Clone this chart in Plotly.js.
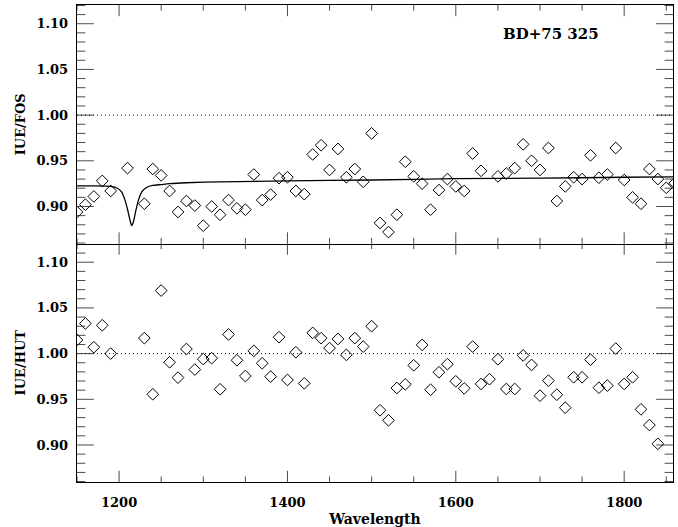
<!DOCTYPE html>
<html>
<head>
<meta charset="utf-8">
<script src="https://cdn.plot.ly/plotly-3.0.1.min.js"></script>
<style>html,body{margin:0;padding:0;background:#fff;}#chart{width:678px;height:527px;}</style>
</head>
<body>
<div id="chart"></div>
<script>
// IUE/FOS ratios (top panel)
const fosWave = [1150,1160,1170,1180,1190,1210,1230,1240,1250,1260,1270,1280,1290,1300,1310,1320,1330,1340,1350,1360,1370,1380,1390,1400,1410,1420,1430,1440,1450,1460,1470,1480,1490,1500,1510,1520,1530,1540,1550,1560,1570,1580,1590,1600,1610,1620,1630,1650,1660,1670,1680,1690,1700,1710,1720,1730,1740,1750,1760,1770,1780,1790,1800,1810,1820,1830,1840,1850,1860];
const fosRatio = [0.894,0.902,0.911,0.928,0.917,0.942,0.903,0.941,0.934,0.917,0.894,0.906,0.901,0.879,0.900,0.891,0.907,0.898,0.8965,0.935,0.907,0.913,0.931,0.932,0.917,0.9135,0.957,0.967,0.940,0.963,0.932,0.941,0.927,0.980,0.882,0.872,0.891,0.949,0.933,0.925,0.8965,0.918,0.930,0.922,0.917,0.958,0.939,0.933,0.936,0.942,0.968,0.950,0.940,0.964,0.906,0.922,0.932,0.930,0.956,0.9315,0.935,0.964,0.929,0.910,0.903,0.941,0.930,0.9205,0.9256];

// Model curve
const fitWave = [1150,1170,1190,1198,1203,1207,1210,1213,1215,1217,1220,1223,1227,1233,1240,1250,1260,1280,1320,1400,1500,1600,1700,1800,1860];
const fitRatio = [0.9225,0.9225,0.922,0.920,0.916,0.907,0.897,0.885,0.879,0.883,0.896,0.907,0.916,0.921,0.923,0.924,0.925,0.926,0.927,0.928,0.929,0.9305,0.931,0.932,0.9325];

// IUE/HUT ratios (bottom panel)
const hutWave = [1150,1160,1170,1180,1190,1230,1240,1250,1260,1270,1280,1290,1300,1310,1320,1330,1340,1350,1360,1370,1380,1390,1400,1410,1420,1430,1440,1450,1460,1470,1480,1490,1500,1510,1520,1530,1540,1550,1560,1570,1580,1590,1600,1610,1620,1630,1640,1650,1660,1670,1680,1690,1700,1710,1720,1730,1740,1750,1760,1770,1780,1790,1800,1810,1820,1830,1840];
const hutRatio = [1.015,1.033,1.007,1.031,1.000,1.017,0.9555,1.069,0.9905,0.9737,1.005,0.9825,0.994,0.995,0.961,1.021,0.9927,0.9755,1.003,0.9894,0.9748,1.018,0.9712,1.0015,0.9675,1.0227,1.0169,1.006,1.016,0.9986,1.0169,1.0077,1.030,0.938,0.927,0.9624,0.9664,0.9872,1.0095,0.9605,0.9796,0.9884,0.9697,0.962,1.0077,0.9668,0.972,0.9938,0.9613,0.9613,0.998,0.9876,0.954,0.9704,0.955,0.9408,0.9741,0.9741,0.9934,0.9627,0.965,1.0055,0.9668,0.9741,0.939,0.9218,0.9013];

// Tick positions
const yMajorTicks = [0.90, 0.95, 1.00, 1.05, 1.10];
const yMinorTicks = [0.86,0.87,0.88,0.89,0.91,0.92,0.93,0.94,0.96,0.97,0.98,0.99,1.01,1.02,1.03,1.04,1.06,1.07,1.08,1.09,1.11,1.12];
const xMajorTicks = [1200, 1400, 1600, 1800];
const xMinorTicks = [1150,1250,1300,1350,1450,1500,1550,1650,1700,1750,1850];
const starName = 'BD+75 325';

const xRange = [1150, 1858];
const yRange = [0.8595, 1.1205];

const font = {family: 'DejaVu Serif', size: 13, color: '#000', weight: 'bold'};
const marker = {symbol: 'diamond-open', size: 9, color: '#000', line: {width: 1, color: '#000'}};

const traces = [
  {x: fosWave, y: fosRatio, xaxis: 'x2', yaxis: 'y2', mode: 'markers', type: 'scatter', marker: marker},
  {x: fitWave, y: fitRatio, xaxis: 'x2', yaxis: 'y2', mode: 'lines', type: 'scatter', line: {color: '#000', width: 1.3, shape: 'spline', smoothing: 0.6}},
  {x: hutWave, y: hutRatio, xaxis: 'x', yaxis: 'y', mode: 'markers', type: 'scatter', marker: marker}
];

// Inward tick marks: line markers centred on each frame edge, half clipped by the plot area
[['x', 'y'], ['x2', 'y2']].forEach(function (p) {
  const yVals = yMajorTicks.concat(yMinorTicks);
  const ySizes = yMajorTicks.map(function () { return 24; }).concat(yMinorTicks.map(function () { return 12; }));
  const xVals = xMajorTicks.concat(xMinorTicks);
  const xSizes = xMajorTicks.map(function () { return 16; }).concat(xMinorTicks.map(function () { return 8; }));
  xRange.forEach(function (edge) {
    traces.push({x: yVals.map(function () { return edge; }), y: yVals, xaxis: p[0], yaxis: p[1], type: 'scatter', mode: 'markers',
      cliponaxis: true, hoverinfo: 'skip', marker: {symbol: 'line-ew', size: ySizes, color: '#000', line: {width: 1, color: '#000'}}});
  });
  yRange.forEach(function (edge) {
    traces.push({x: xVals, y: xVals.map(function () { return edge; }), xaxis: p[0], yaxis: p[1], type: 'scatter', mode: 'markers',
      cliponaxis: true, hoverinfo: 'skip', marker: {symbol: 'line-ns', size: xSizes, color: '#000', line: {width: 1, color: '#000'}}});
  });
});

function yAxis(domain, anchor, title) {
  return {
    domain: domain, range: yRange, anchor: anchor,
    tickmode: 'array', tickvals: yMajorTicks, tickformat: '.2f', ticks: '',
    mirror: true, showline: true, linecolor: '#000', linewidth: 1.3,
    showgrid: false, zeroline: false, tickfont: font, ticklabelstandoff: 5,
    title: {text: title, font: {family: 'DejaVu Serif', size: 13, color: '#000', weight: 'bold'}, standoff: 8}
  };
}

const layout = {
  width: 678, height: 527,
  margin: {l: 77, r: 5, t: 5, b: 45},
  paper_bgcolor: '#fff', plot_bgcolor: '#fff',
  showlegend: false,
  font: font,
  xaxis: {domain: [0, 1], range: xRange, anchor: 'y', tickmode: 'array', tickvals: xMajorTicks, ticks: '',
          showline: true, mirror: false, linecolor: '#000', linewidth: 1.3, showgrid: false, zeroline: false,
          tickfont: font, ticklabelstandoff: 8,
          title: {text: 'Wavelength', font: {family: 'DejaVu Serif', size: 14, color: '#000', weight: 'bold'}, standoff: 6}},
  xaxis2: {domain: [0, 1], range: xRange, anchor: 'y2', matches: 'x', showticklabels: false, ticks: '',
           showline: true, mirror: true, linecolor: '#000', linewidth: 1.5, showgrid: false, zeroline: false},
  yaxis: yAxis([0, 0.5], 'x', 'IUE/HUT'),
  yaxis2: yAxis([0.5, 1], 'x2', 'IUE/FOS'),
  shapes: [
    {type: 'line', xref: 'x2 domain', yref: 'y2', x0: 0, x1: 1, y0: 1.0, y1: 1.0, line: {color: '#000', width: 1, dash: '1px,3px'}},
    {type: 'line', xref: 'x domain', yref: 'y', x0: 0, x1: 1, y0: 1.0, y1: 1.0, line: {color: '#000', width: 1, dash: '1px,3px'}}
  ],
  annotations: [
    {text: starName, xref: 'x2 domain', yref: 'y2 domain', x: 0.795, y: 0.88, xanchor: 'center', yanchor: 'middle', showarrow: false,
     font: {family: 'DejaVu Serif', size: 15, color: '#000', weight: 'bold'}}
  ]
};

Plotly.newPlot('chart', traces, layout, {staticPlot: true});
</script>
</body>
</html>
